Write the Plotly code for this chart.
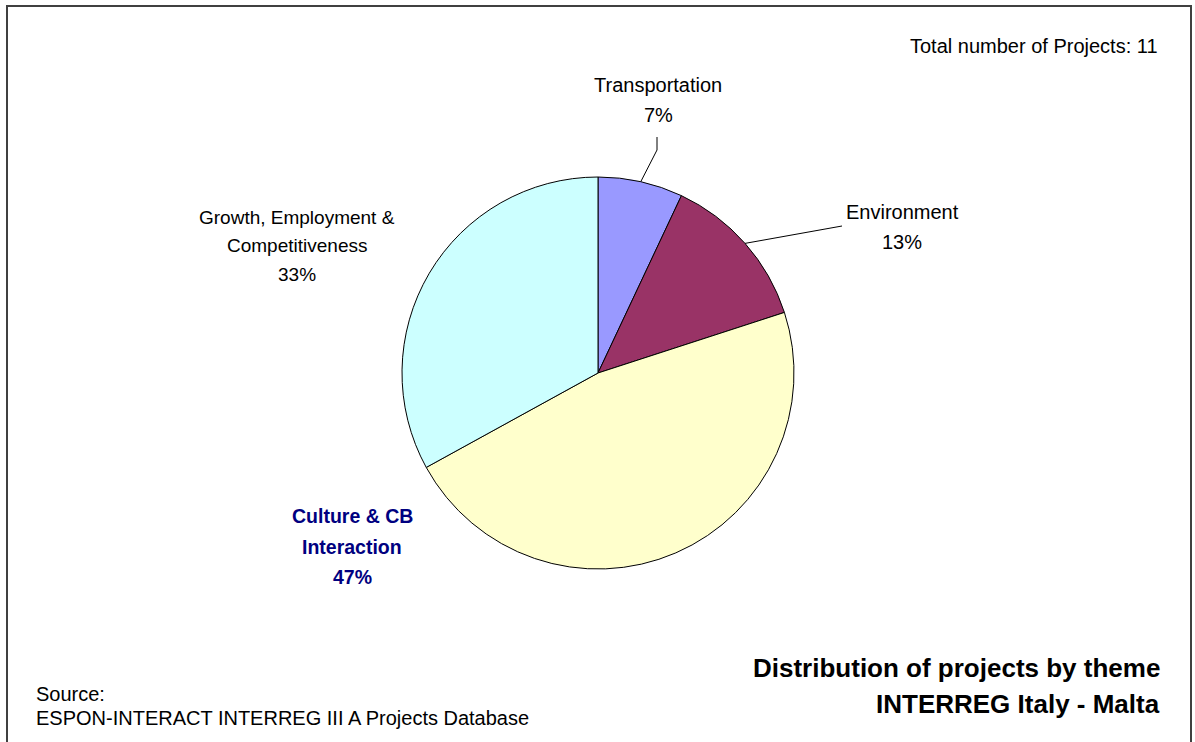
import math
import plotly.graph_objects as go

# ---- data ----
themes = ["Transportation", "Environment", "Culture & CB Interaction", "Growth, Employment & Competitiveness"]
label_lines = [["Transportation"], ["Environment"], ["Culture & CB", "Interaction"],
               ["Growth, Employment &", "Competitiveness"]]
shares = [7, 13, 47, 33]
colors = ["#9999FF", "#993366", "#FFFFCC", "#CCFFFF"]
total_projects = 11
title_lines = ["Distribution of projects by theme", "INTERREG Italy - Malta"]
source_lines = ["Source:", "ESPON-INTERACT INTERREG III A Projects Database"]

W, H = 1195, 742
# pie geometry in pixels
CX, CY, R = 598, 373, 196


def px(x):
    return x / W


def py(y):
    return 1 - y / H


fig = go.Figure(go.Pie(
    values=shares,
    labels=themes,
    marker=dict(colors=colors, line=dict(color="#000000", width=1)),
    sort=False,
    direction="clockwise",
    rotation=0,
    textinfo="none",
    hoverinfo="label+percent",
    showlegend=False,
    domain=dict(x=[px(CX - R), px(CX + R)], y=[py(CY + R), py(CY - R)]),
))

# mid angles of slices (degrees clockwise from 12 o'clock)
tot = sum(shares)
mids = []
acc = 0
for v in shares:
    mids.append((acc + v / 2) / tot * 360)
    acc += v


def edge(i):
    a = math.radians(mids[i])
    return CX + R * math.sin(a), CY - R * math.cos(a)


font = "Liberation Sans, Arial, sans-serif"
fs = 20

annotations = []


def add_text(x, y, text, size=fs, color="#000000", anchor="center", bold=False):
    if bold:
        text = f"<b>{text}</b>"
    annotations.append(dict(
        x=px(x), y=py(y), xref="paper", yref="paper", text=text, showarrow=False,
        font=dict(family=font, size=size, color=color),
        xanchor=anchor, yanchor="middle",
    ))


# label positions: centre x, first-line y, line step, font size
label_pos = {0: (658, 85, 30, 20), 1: (902, 212, 30, 20), 2: (352, 516, 30.5, 19.5), 3: (297, 217, 28.5, 19)}
for i in range(len(themes)):
    x, y0, step, size = label_pos[i]
    lines = label_lines[i] + [f"{shares[i]}%"]
    for k, ln in enumerate(lines):
        if i == 2:
            add_text(x, y0 + k * step, ln, size=size, color="#000080", bold=True)
        else:
            add_text(x, y0 + k * step, ln, size=size)

add_text(1160, 46, f"Total number of Projects: {total_projects}", anchor="right")
for k, ln in enumerate(title_lines):
    add_text(1162, 668 + k * 36, ln, size=26, anchor="right", bold=True)
for k, ln in enumerate(source_lines):
    add_text(34, 694 + k * 24, ln, anchor="left")

shapes = []
# leader lines
ex, ey = edge(0)
shapes.append(dict(type="path", xref="paper", yref="paper",
                   path=f"M {px(ex)},{py(ey)} L {px(657)},{py(150)} L {px(657)},{py(137)}",
                   line=dict(color="#000000", width=1)))
ex, ey = edge(1)
shapes.append(dict(type="line", xref="paper", yref="paper",
                   x0=px(ex), y0=py(ey), x1=px(842), y1=py(226),
                   line=dict(color="#000000", width=1)))
# frame
shapes.append(dict(type="path", xref="paper", yref="paper",
                   path=f"M {px(7)},{py(745)} L {px(7)},{py(6)} L {px(1191)},{py(6)} L {px(1191)},{py(745)}",
                   line=dict(color="#404040", width=2)))

fig.update_layout(
    width=W, height=H,
    margin=dict(l=0, r=0, t=0, b=0),
    paper_bgcolor="#FFFFFF",
    plot_bgcolor="#FFFFFF",
    annotations=annotations,
    shapes=shapes,
)

fig.write_html("out.html", config={"displayModeBar": False},
               post_script="document.body.style.margin='0';document.body.style.overflow='hidden';")
